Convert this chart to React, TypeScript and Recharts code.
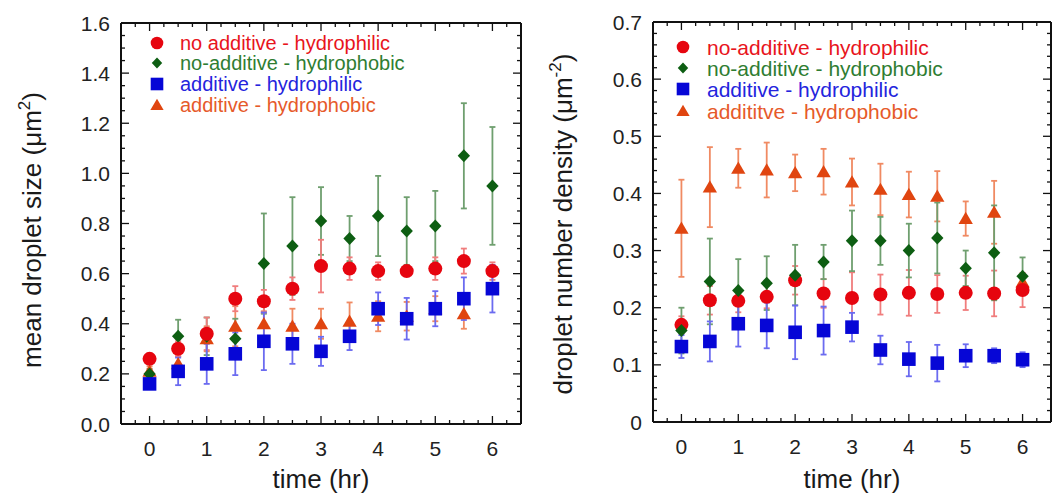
import React from 'react';
import { ScatterChart, Scatter, XAxis, YAxis, ErrorBar, Legend } from 'recharts';

const FONT = '"Liberation Sans", Arial, Helvetica, sans-serif';

// time points (hr)
const times = [0, 0.5, 1, 1.5, 2, 2.5, 3, 3.5, 4, 4.5, 5, 5.5, 6];

// x ticks
const xMajorTicks = [0, 1, 2, 3, 4, 5, 6];
const xDomain: [number, number] = [-0.5, 6.5];
const xMinorStep = 0.25;

// ---------- Left panel: mean droplet size (um^2) ----------
const sizeNoAddPhilic = [0.26, 0.3, 0.36, 0.5, 0.49, 0.54, 0.63, 0.62, 0.61, 0.61, 0.62, 0.65, 0.61];
const sizeNoAddPhilicErr = [0.01, 0.03, 0.065, 0.05, 0.045, 0.045, 0.105, 0.045, 0.035, 0.02, 0.045, 0.05, 0.035];
const sizeNoAddPhobic = [0.2, 0.35, 0.35, 0.34, 0.64, 0.71, 0.81, 0.74, 0.83, 0.77, 0.79, 1.07, 0.95];
const sizeNoAddPhobicErr = [0.02, 0.066, 0.075, 0.08, 0.2, 0.195, 0.135, 0.09, 0.16, 0.135, 0.14, 0.21, 0.235];
const sizeAddPhilic = [0.16, 0.21, 0.24, 0.28, 0.33, 0.32, 0.29, 0.35, 0.46, 0.42, 0.46, 0.5, 0.54];
const sizeAddPhilicErr = [0.02, 0.055, 0.08, 0.085, 0.115, 0.08, 0.058, 0.055, 0.065, 0.083, 0.07, 0.085, 0.095];
const sizeAddPhobic = [0.21, 0.24, 0.34, 0.39, 0.4, 0.39, 0.4, 0.41, 0.43, 0.43, 0.46, 0.44, null];
const sizeAddPhobicErr = [0.02, 0.03, 0.05, 0.08, 0.05, 0.07, 0.06, 0.075, 0.06, 0.057, 0.05, 0.06, null];
const sizeYMajorTicks = [0, 0.2, 0.4, 0.6, 0.8, 1.0, 1.2, 1.4, 1.6];
const sizeYDomain: [number, number] = [0, 1.6];
const sizeYMinorStep = 0.05;

// ---------- Right panel: droplet number density (um^-2) ----------
const densNoAddPhilic = [0.17, 0.213, 0.212, 0.219, 0.248, 0.225, 0.217, 0.223, 0.226, 0.224, 0.226, 0.225, 0.231];
const densNoAddPhilicErr = [0.015, 0.025, 0.02, 0.02, 0.025, 0.025, 0.045, 0.035, 0.04, 0.033, 0.03, 0.04, 0.03];
const densNoAddPhobic = [0.16, 0.246, 0.23, 0.243, 0.257, 0.28, 0.317, 0.317, 0.3, 0.322, 0.269, 0.296, 0.255];
const densNoAddPhobicErr = [0.04, 0.075, 0.055, 0.047, 0.053, 0.03, 0.053, 0.042, 0.047, 0.062, 0.031, 0.083, 0.033];
const densAddPhilic = [0.132, 0.141, 0.172, 0.169, 0.157, 0.16, 0.166, 0.126, 0.11, 0.103, 0.116, 0.116, 0.109];
const densAddPhilicErr = [0.02, 0.035, 0.04, 0.04, 0.047, 0.042, 0.025, 0.025, 0.03, 0.032, 0.02, 0.013, 0.013];
const densAddPhobic = [0.339, 0.411, 0.444, 0.441, 0.436, 0.438, 0.42, 0.407, 0.398, 0.395, 0.356, 0.367, 0.245];
const densAddPhobicErr = [0.085, 0.07, 0.034, 0.048, 0.032, 0.04, 0.041, 0.045, 0.04, 0.044, 0.03, 0.055, 0.01];
const densYMajorTicks = [0, 0.1, 0.2, 0.3, 0.4, 0.5, 0.6, 0.7];
const densYDomain: [number, number] = [0, 0.7];
const densYMinorStep = 0.02;

const legendLeft = ['no additive - hydrophilic', 'no-additive - hydrophobic', 'additive - hydrophilic', 'additive - hydrophobic'];
const legendRight = ['no-additive - hydrophilic', 'no-additive - hydrophobic', 'additive - hydrophilic', 'addititve - hydrophobic'];

type Kind = 'circle' | 'diamond' | 'square' | 'triangle';
type Pt = { x: number; y: number; err: number };

const STYLE: Record<string, { kind: Kind; fill: string; bar: string; text: string }> = {
  nap: { kind: 'circle', fill: '#e6050f', bar: '#f07d7d', text: '#e8141c' },
  nao: { kind: 'diamond', fill: '#0d5e12', bar: '#6f9f6f', text: '#2f7d32' },
  ap: { kind: 'square', fill: '#0606d6', bar: '#6b6bf0', text: '#2424dd' },
  ao: { kind: 'triangle', fill: '#e04510', bar: '#f08a62', text: '#e65a2a' },
};

const build = (vals: (number | null)[], errs: (number | null)[]): Pt[] =>
  times.flatMap((t, i) => (vals[i] == null ? [] : [{ x: t, y: vals[i] as number, err: (errs[i] ?? 0) as number }]));

const minorTicks = (lo: number, hi: number, step: number): number[] => {
  const n = Math.round((hi - lo) / step);
  const out: number[] = [];
  for (let i = 0; i <= n; i++) out.push(Math.round((lo + i * step) * 1000) / 1000);
  return out;
};

const isMajor = (v: number, majors: number[]) => majors.some((m) => Math.abs(m - v) < 1e-6);

const symbol = (kind: Kind, cx: number, cy: number, s: number, color: string, key?: string) => {
  switch (kind) {
    case 'circle':
      return <circle key={key} cx={cx} cy={cy} r={s} fill={color} />;
    case 'square':
      return <rect key={key} x={cx - s} y={cy - s} width={2 * s} height={2 * s} fill={color} />;
    case 'diamond':
      return <polygon key={key} points={`${cx},${cy - s} ${cx + s * 0.95},${cy} ${cx},${cy + s} ${cx - s * 0.95},${cy}`} fill={color} />;
    default:
      return (
        <polygon
          key={key}
          points={`${cx},${cy - s} ${cx + s * 1.05},${cy + s * 0.8} ${cx - s * 1.05},${cy + s * 0.8}`}
          fill={color}
        />
      );
  }
};

const sizes: Record<Kind, number> = { circle: 7, square: 6.8, diamond: 6.5, triangle: 6.8 };

const makeShape = (kind: Kind, color: string) => (props: any) => {
  const { cx, cy } = props;
  if (cx == null || cy == null || isNaN(cx) || isNaN(cy)) return <g />;
  return symbol(kind, cx, cy, sizes[kind], color);
};

const TICK_COLOR = '#222';

const makeBottomTick = (majors: number[]) => (props: any) => {
  const { x, y, payload } = props;
  const v = payload.value as number;
  const major = isMajor(v, majors);
  return (
    <g>
      <line x1={x} y1={y} x2={x} y2={y - (major ? 8 : 4)} stroke="#111" strokeWidth={1.3} />
      {major && (
        <text x={x} y={y + 32} textAnchor="middle" fontSize={21} fontFamily={FONT} fill={TICK_COLOR}>
          {v}
        </text>
      )}
    </g>
  );
};

const makeTopTick = (majors: number[]) => (props: any) => {
  const { x, y, payload } = props;
  const major = isMajor(payload.value, majors);
  return <line x1={x} y1={y} x2={x} y2={y + (major ? 8 : 4)} stroke="#111" strokeWidth={1.3} />;
};

const makeLeftTick = (majors: number[], fmt: (v: number) => string) => (props: any) => {
  const { x, y, payload } = props;
  const v = payload.value as number;
  const major = isMajor(v, majors);
  return (
    <g>
      <line x1={x} y1={y} x2={x + (major ? 8 : 4)} y2={y} stroke="#111" strokeWidth={1.3} />
      {major && (
        <text x={x - 11} y={y + 7.5} textAnchor="end" fontSize={21} fontFamily={FONT} fill={TICK_COLOR}>
          {fmt(v)}
        </text>
      )}
    </g>
  );
};

const makeRightTick = (majors: number[]) => (props: any) => {
  const { x, y, payload } = props;
  const major = isMajor(payload.value, majors);
  return <line x1={x} y1={y} x2={x - (major ? 8 : 4)} y2={y} stroke="#111" strokeWidth={1.3} />;
};

type SeriesDef = { key: string; data: Pt[] };

type PanelProps = {
  width: number;
  height: number;
  marginTop: number;
  leftAxisW: number;
  rightAxisW: number;
  bottomAxisH: number;
  yDomain: [number, number];
  yMajors: number[];
  yMinorStep: number;
  yFmt: (v: number) => string;
  series: SeriesDef[]; // in drawing order
  legendNames: string[];
  legendFont: number;
  legendMarkerX: number;
  legendTextX: number;
  legendRows: number[];
  yTitle: React.ReactNode;
  xTitleX: number;
};

const legendKeys = ['nap', 'nao', 'ap', 'ao'];

const Panel = (p: PanelProps) => {
  const xTicks = minorTicks(xDomain[0], xDomain[1], xMinorStep);
  const yTicks = minorTicks(p.yDomain[0], p.yDomain[1], p.yMinorStep);
  const axisLine = { stroke: '#111', strokeWidth: 2 };
  const legendContent = () => (
    <svg width={p.width} height={140} style={{ overflow: 'visible', display: 'block' }}>
      {legendKeys.map((k, i) => {
        const st = STYLE[k];
        const cy = p.legendRows[i];
        return (
          <g key={k}>
            {symbol(st.kind, p.legendMarkerX, cy, st.kind === 'diamond' ? 5.5 : 6.3, st.fill)}
            <text
              x={p.legendTextX}
              y={cy + p.legendFont * 0.36}
              fontSize={p.legendFont}
              fontFamily={FONT}
              fill={st.text}
            >
              {p.legendNames[i]}
            </text>
          </g>
        );
      })}
    </svg>
  );
  return (
    <ScatterChart
      width={p.width}
      height={p.height}
      margin={{ top: p.marginTop, right: 0, bottom: 0, left: 0 }}
      style={{ fontFamily: FONT }}
    >
      <XAxis
        xAxisId="top"
        orientation="top"
        type="number"
        dataKey="x"
        domain={xDomain}
        allowDataOverflow
        ticks={xTicks}
        interval={0}
        height={3}
        tickSize={0}
        tickMargin={0}
        tickLine={false}
        axisLine={axisLine}
        tick={makeTopTick(xMajorTicks)}
      />
      <XAxis
        xAxisId={0}
        orientation="bottom"
        type="number"
        dataKey="x"
        domain={xDomain}
        allowDataOverflow
        ticks={xTicks}
        interval={0}
        height={p.bottomAxisH}
        tickSize={0}
        tickMargin={0}
        tickLine={false}
        axisLine={axisLine}
        tick={makeBottomTick(xMajorTicks)}
        label={() => (
          <text x={p.xTitleX} y={p.height - 12} textAnchor="middle" fontSize={26} fontFamily={FONT} fill="#1a1a1a">
            time (hr)
          </text>
        )}
      />
      <YAxis
        yAxisId={0}
        orientation="left"
        type="number"
        dataKey="y"
        domain={p.yDomain}
        allowDataOverflow
        ticks={yTicks}
        interval={0}
        width={p.leftAxisW}
        tickSize={0}
        tickMargin={0}
        tickLine={false}
        axisLine={axisLine}
        tick={makeLeftTick(p.yMajors, p.yFmt)}
        label={() => p.yTitle}
      />
      <YAxis
        yAxisId="right"
        orientation="right"
        type="number"
        domain={p.yDomain}
        allowDataOverflow
        ticks={yTicks}
        interval={0}
        width={p.rightAxisW}
        tickSize={0}
        tickMargin={0}
        tickLine={false}
        axisLine={axisLine}
        tick={makeRightTick(p.yMajors)}
      />
      <Legend
        layout="vertical"
        align="center"
        verticalAlign="middle"
        content={legendContent}
        wrapperStyle={{ left: 0, top: 0, width: p.width, height: 140 }}
      />
      {p.series.map((s) => {
        const st = STYLE[s.key];
        return (
          <Scatter
            key={s.key}
            name={s.key}
            data={s.data}
            xAxisId={0}
            yAxisId={0}
            fill={st.fill}
            isAnimationActive={false}
            shape={makeShape(st.kind, st.fill)}
          >
            <ErrorBar dataKey="err" direction="y" width={3} stroke={st.bar} strokeWidth={1.8} isAnimationActive={false} />
          </Scatter>
        );
      })}
    </ScatterChart>
  );
};

export default function App() {
  const leftSeries: SeriesDef[] = [
    { key: 'ao', data: build(sizeAddPhobic, sizeAddPhobicErr) },
    { key: 'nao', data: build(sizeNoAddPhobic, sizeNoAddPhobicErr) },
    { key: 'nap', data: build(sizeNoAddPhilic, sizeNoAddPhilicErr) },
    { key: 'ap', data: build(sizeAddPhilic, sizeAddPhilicErr) },
  ];
  const rightSeries: SeriesDef[] = [
    { key: 'ao', data: build(densAddPhobic, densAddPhobicErr) },
    { key: 'nap', data: build(densNoAddPhilic, densNoAddPhilicErr) },
    { key: 'nao', data: build(densNoAddPhobic, densNoAddPhobicErr) },
    { key: 'ap', data: build(densAddPhilic, densAddPhilicErr) },
  ];
  const leftTitle = (
    <text x={41} y={230} transform="rotate(-90 41 230)" textAnchor="middle" fontSize={26} fontFamily={FONT} fill="#1a1a1a">
      mean droplet size (μm
      <tspan fontSize={17} dy={-11}>2</tspan>
      <tspan dy={11}>)</tspan>
    </text>
  );
  const rightTitle = (
    <text x={42} y={224} transform="rotate(-90 42 224)" textAnchor="middle" fontSize={26} fontFamily={FONT} fill="#1a1a1a">
      droplet number density (μm
      <tspan fontSize={17} dy={-11}>-2</tspan>
      <tspan dy={11}>)</tspan>
    </text>
  );
  return (
    <div
      style={{
        position: 'absolute',
        left: 0,
        top: 0,
        width: 1052,
        height: 500,
        overflow: 'hidden',
        background: '#fff',
        fontFamily: FONT,
      }}
    >
      <div style={{ position: 'absolute', left: 0, top: 0 }}>
        <Panel
          width={530}
          height={500}
          marginTop={20}
          leftAxisW={121}
          rightAxisW={9}
          bottomAxisH={76}
          yDomain={sizeYDomain}
          yMajors={sizeYMajorTicks}
          yMinorStep={sizeYMinorStep}
          yFmt={(v) => v.toFixed(1)}
          series={leftSeries}
          legendNames={legendLeft}
          legendFont={20}
          legendMarkerX={157}
          legendTextX={180}
          legendRows={[43, 63, 84, 105]}
          yTitle={leftTitle}
          xTitleX={321}
        />
      </div>
      <div style={{ position: 'absolute', left: 530, top: 0 }}>
        <Panel
          width={522}
          height={500}
          marginTop={19}
          leftAxisW={123}
          rightAxisW={1}
          bottomAxisH={78}
          yDomain={densYDomain}
          yMajors={densYMajorTicks}
          yMinorStep={densYMinorStep}
          yFmt={(v) => (v === 0 ? '0' : v.toFixed(1))}
          series={rightSeries}
          legendNames={legendRight}
          legendFont={21}
          legendMarkerX={153}
          legendTextX={177}
          legendRows={[47, 68, 89, 111]}
          yTitle={rightTitle}
          xTitleX={322}
        />
      </div>
    </div>
  );
}
